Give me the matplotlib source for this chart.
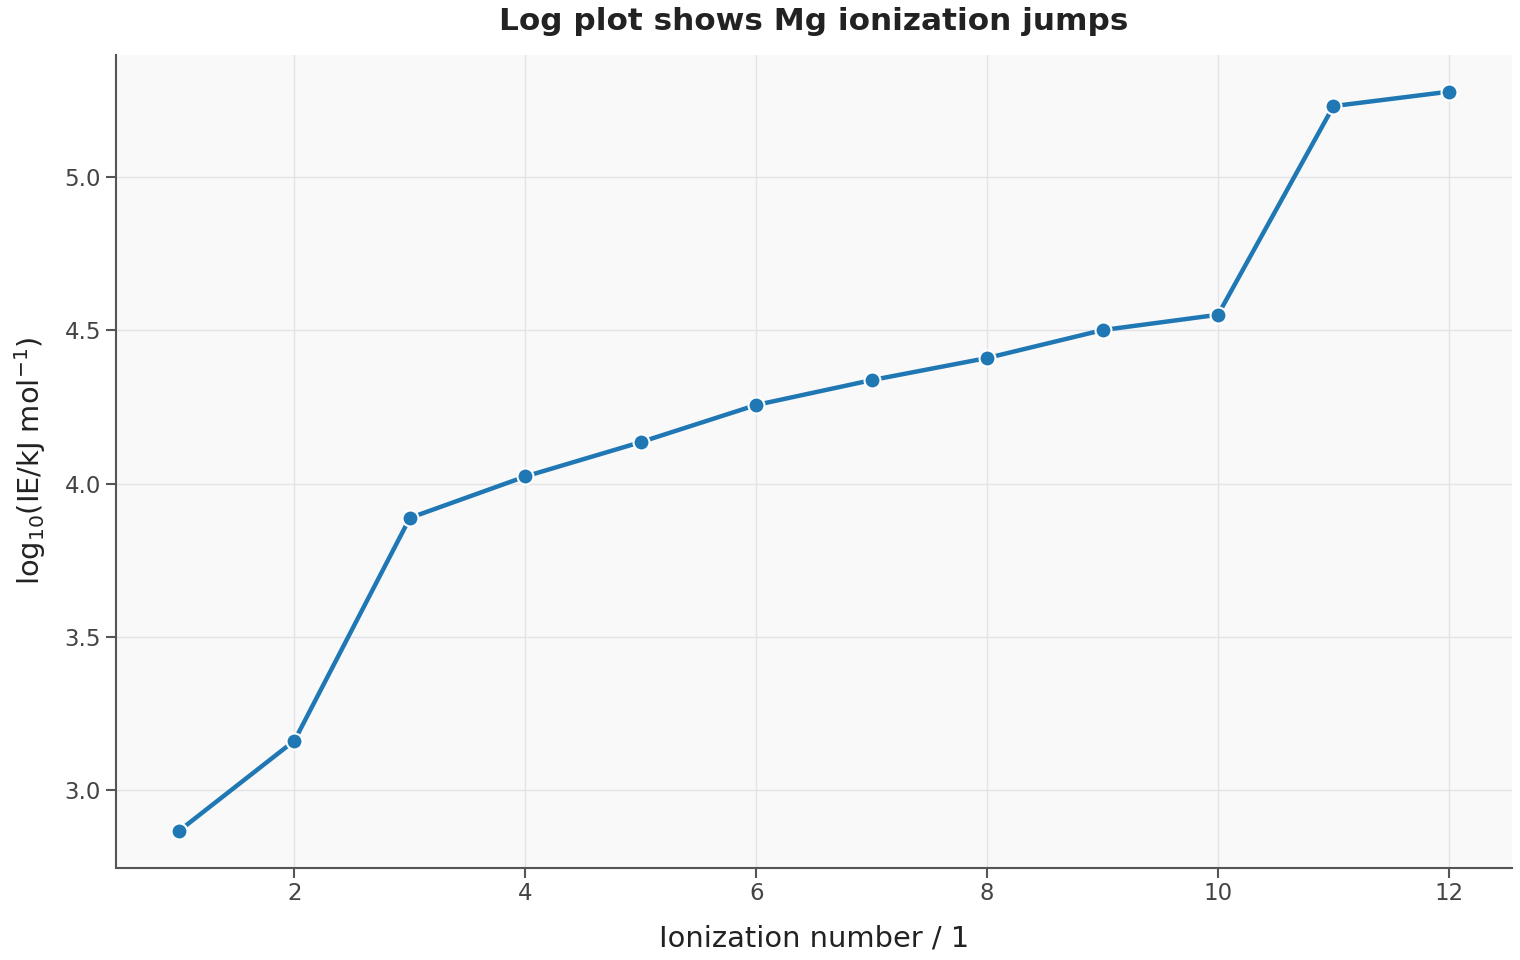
import matplotlib.pyplot as plt

# Mg successive ionization energies, log10(kJ/mol)
ionization_number = [1, 2, 3, 4, 5, 6, 7, 8, 9, 10, 11, 12]
log_ie = [2.868, 3.162, 3.888, 4.023, 4.135, 4.256, 4.337, 4.409, 4.500, 4.550, 5.230, 5.277]

fig, ax = plt.subplots(figsize=(15.2, 9.6), dpi=100)
fig.subplots_adjust(left=0.076, right=0.995, top=0.943, bottom=0.096)

ax.set_facecolor("#f9f9f9")
ax.grid(True, color="#e3e3e8", linewidth=1.0)
ax.set_axisbelow(True)

ax.plot(ionization_number, log_ie, color="#1f77b4", linewidth=3.2,
        marker="o", markersize=11.5, markerfacecolor="#1f77b4",
        markeredgecolor="white", markeredgewidth=1.5)

for side in ["top", "right"]:
    ax.spines[side].set_visible(False)
for side in ["left", "bottom"]:
    ax.spines[side].set_color("#555555")
    ax.spines[side].set_linewidth(1.5)

ax.tick_params(colors="#555555", labelcolor="#444444", labelsize=16.5, width=1.5, length=7)
ax.set_xticks([2, 4, 6, 8, 10, 12])
ax.set_yticks([3.0, 3.5, 4.0, 4.5, 5.0])

ax.set_xlabel("Ionization number / 1", fontsize=20.8, color="#222222", labelpad=14)
ax.set_ylabel(r"log$_{10}$(IE/kJ mol$^{-1}$)", fontsize=20.8, color="#222222", labelpad=12)
ax.set_title("Log plot shows Mg ionization jumps", fontsize=22.4, fontweight="bold",
             color="#222222", pad=18)

fig.savefig("out.png", dpi=100)
